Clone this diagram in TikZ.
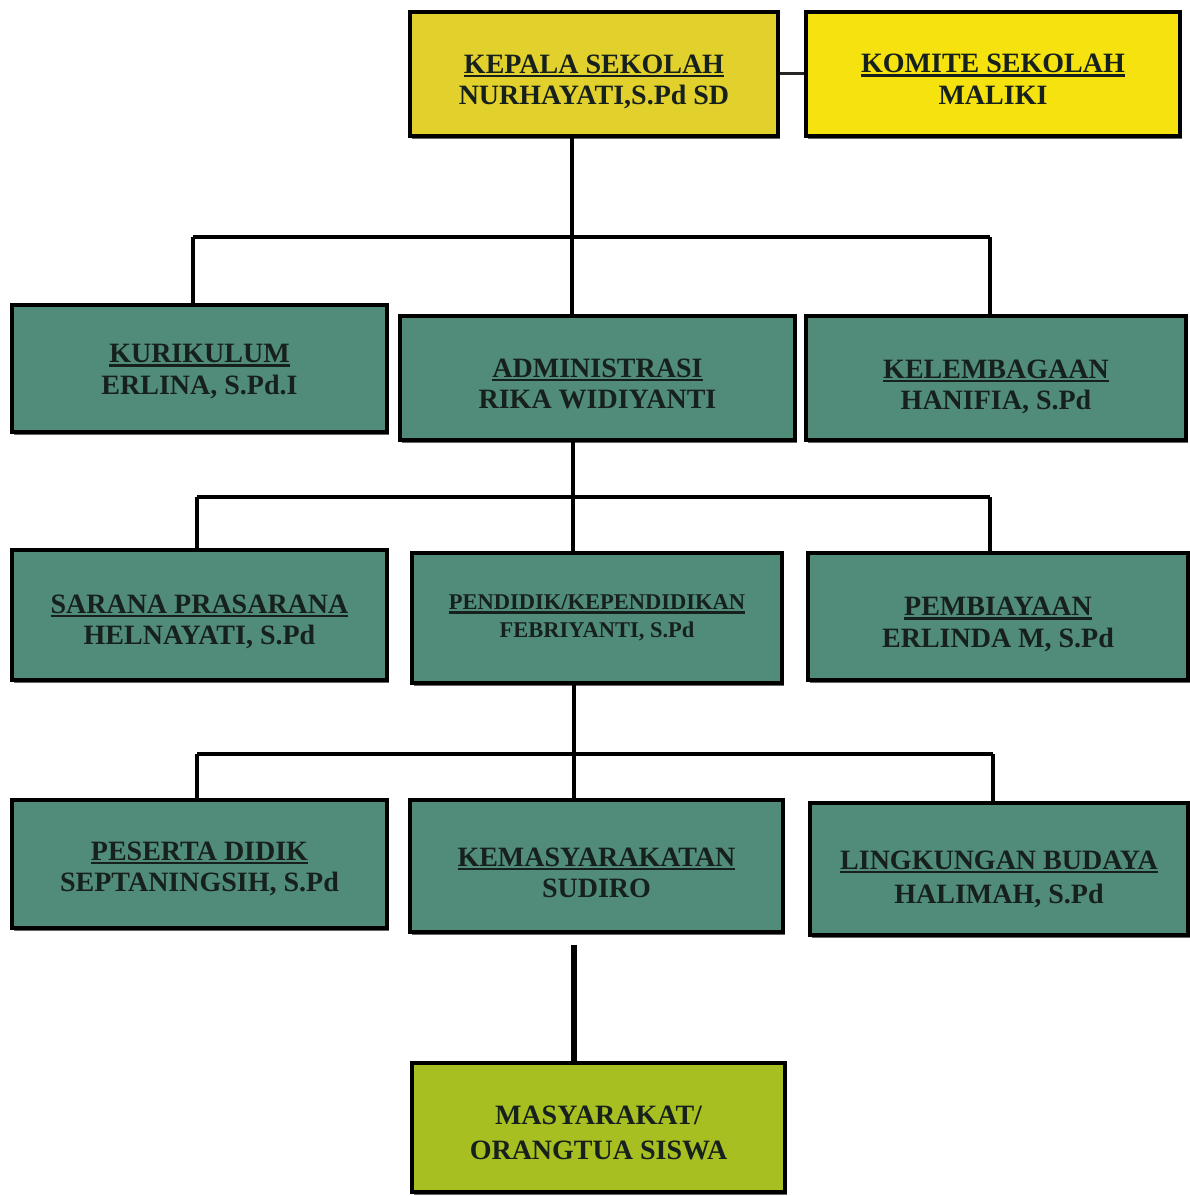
\documentclass[tikz,border=0pt]{standalone}
\usepackage{fontspec}
\usetikzlibrary{shadows}
\setmainfont{Liberation Serif}
\definecolor{mustard}{HTML}{E2D02C}
\definecolor{bright}{HTML}{F5E20E}
\definecolor{teal2}{HTML}{518B7A}
\definecolor{lime2}{HTML}{A8BF22}
\definecolor{ink}{HTML}{16201C}
\newcommand\myul[1]{\setbox0\hbox{#1}\rlap{\rule[-4pt]{\wd0}{2.4pt}}\box0}
\tikzset{
  orgbox/.style={draw=black, line width=4.5pt, inner sep=0pt,
    drop shadow={shadow xshift=1.5pt, shadow yshift=-3pt, fill=black!75, opacity=0.8}},
  tealbox/.style={orgbox, fill=teal2},
  txt/.style={align=center, text=ink, inner sep=0pt,
    font=\bfseries\fontsize{28}{31.5}\selectfont},
  link/.style={draw=black, line width=4.5pt},
}
\begin{document}
\begin{tikzpicture}[x=1pt,y=-1pt]
\useasboundingbox[fill=white] (0,0) rectangle (1190,1196);
% top row
\node[orgbox, fill=mustard, minimum width=368, minimum height=124] (kepala) at (594,74) {};
\node[txt] (kepalaT) at ([yshift=-8pt]kepala.center) {\myul{KEPALA SEKOLAH}\\NURHAYATI,S.Pd SD};
\node[orgbox, fill=bright, minimum width=374, minimum height=124] (komite) at (993,74) {};
\node[txt] (komiteT) at ([yshift=-5pt]komite.center) {\myul{KOMITE SEKOLAH}\\MALIKI};
% row 2
\node[tealbox, minimum width=375, minimum height=127] (kurik) at (199.5,368.5) {};
\node[txt] (kurikT) at ([yshift=-3pt]kurik.center) {\myul{KURIKULUM}\\ERLINA, S.Pd.I};
\node[tealbox, minimum width=395, minimum height=124] (admin) at (597.5,378) {};
\node[txt] (adminT) at ([yshift=-6pt]admin.center) {\myul{ADMINISTRASI}\\RIKA WIDIYANTI};
\node[tealbox, minimum width=380, minimum height=124] (lemb) at (996,378) {};
\node[txt] (lembT) at ([yshift=-9pt]lemb.center) {\myul{KELEMBAGAAN}\\HANIFIA, S.Pd};
% row 3
\node[tealbox, minimum width=375, minimum height=130] (sarana) at (199.5,615) {};
\node[txt] (saranaT) at ([yshift=-7pt]sarana.center) {\myul{SARANA PRASARANA}\\HELNAYATI, S.Pd};
\node[tealbox, minimum width=370, minimum height=130] (pendidik) at (597,618) {};
\node[txt, font=\bfseries\fontsize{22.5}{28}\selectfont] (pendidikT) at ([yshift=0pt]pendidik.center) {\myul{PENDIDIK/KEPENDIDIKAN}\\FEBRIYANTI, S.Pd};
\node[tealbox, minimum width=380, minimum height=127] (biaya) at (998,616.5) {};
\node[txt] (biayaT) at ([yshift=-8pt]biaya.center) {\myul{PEMBIAYAAN}\\ERLINDA M, S.Pd};
% row 4
\node[tealbox, minimum width=375, minimum height=128] (peserta) at (199.5,864) {};
\node[txt] (pesertaT) at ([yshift=-5pt]peserta.center) {\myul{PESERTA DIDIK}\\SEPTANINGSIH, S.Pd};
\node[tealbox, minimum width=373, minimum height=132] (kemas) at (596.5,866) {};
\node[txt] (kemasT) at ([yshift=-7pt]kemas.center) {\myul{KEMASYARAKATAN}\\SUDIRO};
\node[tealbox, minimum width=378, minimum height=132] (lingk) at (999,869) {};
\node[txt, font=\bfseries\fontsize{28}{34}\selectfont] (lingkT) at ([yshift=-10pt]lingk.center) {\myul{LINGKUNGAN BUDAYA}\\HALIMAH, S.Pd};
% bottom
\node[orgbox, fill=lime2, minimum width=373, minimum height=129] (masy) at (598.5,1127.5) {};
\node[txt, font=\bfseries\fontsize{28}{35}\selectfont] (masyT) at ([yshift=-5pt]masy.center) {MASYARAKAT/\\ORANGTUA SISWA};
% connectors
\draw[draw=black!85, line width=3pt] (kepala) -- (komite);
\coordinate (v1) at (572,237);
\coordinate (b1l) at (193,237);
\coordinate (b1r) at (990,237);
\draw[link] (kepala.south -| v1) -- (admin.north -| v1);
\draw[link] (b1l) -- (b1r);
\draw[link] (b1l) -- (kurik.north -| b1l);
\draw[link] (b1r) -- (lemb.north -| b1r);
\coordinate (v2) at (573,497);
\coordinate (b2l) at (197,497);
\coordinate (b2r) at (990,497);
\draw[link] (admin.south -| v2) -- (pendidik.north -| v2);
\draw[link] (b2l) -- (b2r);
\draw[link] (b2l) -- (sarana.north -| b2l);
\draw[link] (b2r) -- (biaya.north -| b2r);
\coordinate (v3) at (574,754);
\coordinate (b3l) at (197,754);
\coordinate (b3r) at (993,754);
\draw[link] (pendidik.south -| v3) -- (kemas.north -| v3);
\draw[link] (b3l) -- (b3r);
\draw[link] (b3l) -- (peserta.north -| b3l);
\draw[link] (b3r) -- (lingk.north -| b3r);
\coordinate (v4) at (574,945);
\draw[link, line width=6pt] (v4) -- (masy.north -| v4);
\end{tikzpicture}
\end{document}
